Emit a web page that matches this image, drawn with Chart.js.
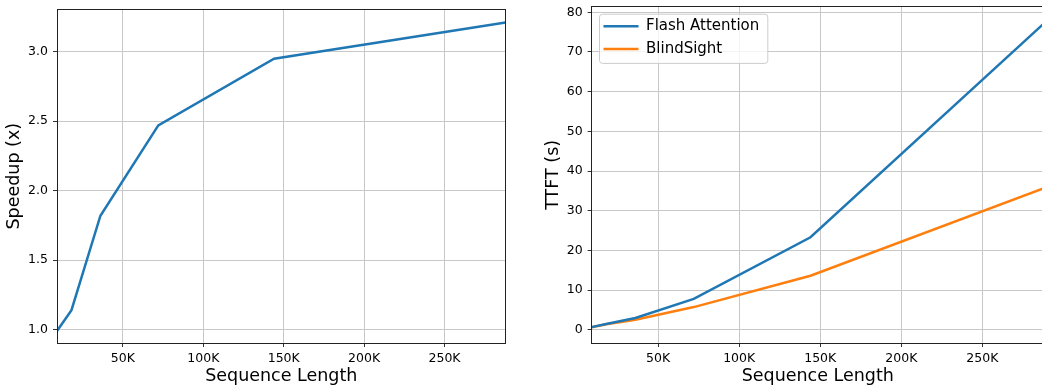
<!DOCTYPE html>
<html>
<head>
<meta charset="utf-8">
<script src="https://cdn.jsdelivr.net/npm/chart.js@4"></script>
<style>
html, body { margin: 0; padding: 0; background: #fff; overflow: hidden; }
#speedupChart { position: absolute; left: 0; top: 0; }
#ttftChart { position: absolute; left: 520px; top: 0; }
</style>
</head>
<body>
<canvas id="speedupChart" width="520" height="388"></canvas>
<canvas id="ttftChart" width="524" height="388"></canvas>
<script>
const seqLen = [9000, 18000, 36000, 72000, 144000, 288000];
const speedup = [0.99, 1.14, 1.82, 2.47, 2.95, 3.21];
const flashTTFT = [0.65, 1.45, 2.95, 7.75, 23.3, 77.2];
const blindTTFT = [0.6, 1.35, 2.5, 5.7, 13.6, 35.7];
const seriesNames = ['Flash Attention', 'BlindSight'];
const xTicks = [50000, 100000, 150000, 200000, 250000];
const speedupTicks = [1.0, 1.5, 2.0, 2.5, 3.0];
const ttftTicks = [0, 10, 20, 30, 40, 50, 60, 70, 80];

Chart.defaults.font.family = "'DejaVu Sans', sans-serif";
Chart.defaults.font.size = 12.5;
Chart.defaults.color = '#000';

const toPoints = ys => seqLen.map((x, i) => ({ x: x, y: ys[i] }));

function xAxis() {
    return {
        type: 'linear',
        min: seqLen[0],
        max: seqLen[seqLen.length - 1],
        afterBuildTicks: s => { s.ticks = xTicks.map(v => ({ value: v })); },
        afterFit: s => { s.height = 45; s.paddingLeft = 0; s.paddingRight = 0; },
        ticks: { callback: v => (v / 1000) + 'K', padding: 3.8, maxRotation: 0, autoSkip: false },
        grid: { color: '#c8c8c8', lineWidth: 1, tickColor: '#333', tickLength: 4, tickWidth: 1 },
        border: { display: false },
        title: { display: true, text: 'Sequence Length', font: { size: 17.5 }, padding: { top: 0, bottom: 1.3 } }
    };
}

function yAxis(min, max, tickList, fmt, width, label, titlePad) {
    return {
        min: min,
        max: max,
        afterBuildTicks: s => { s.ticks = tickList.map(v => ({ value: v })); },
        afterFit: s => { s.width = width; s.paddingTop = 0; s.paddingBottom = 0; },
        ticks: { callback: fmt, padding: 5, autoSkip: false },
        grid: { color: '#c8c8c8', lineWidth: 1, tickColor: '#333', tickLength: 4, tickWidth: 1 },
        border: { display: false },
        title: { display: true, text: label, font: { size: 17.5 }, padding: { top: titlePad, bottom: 0 } }
    };
}

// black box round the plot area, like the matplotlib spines
const axesFrame = {
    id: 'axesFrame',
    afterDraw(chart) {
        const a = chart.chartArea;
        const ctx = chart.ctx;
        const l = Math.floor(a.left) + 0.5, t = Math.floor(a.top) + 0.5;
        const r = Math.floor(a.right) + 0.5, b = Math.floor(a.bottom) + 0.5;
        ctx.save();
        ctx.strokeStyle = '#222';
        ctx.lineWidth = 1;
        ctx.strokeRect(l, t, r - l, b - t);
        ctx.restore();
    }
};

// puts the legend in the upper left of the plot and gives it a frame
const legendFrame = {
    id: 'legendFrame',
    afterLayout(chart) {
        const lg = chart.legend;
        if (!lg || !lg.options.display) return;
        const a = chart.chartArea;
        lg.left = a.left + 4.2;
        lg.top = a.top + 4.3;
        lg.right = a.right;
        lg.bottom = a.bottom;
        if (!lg._framed) {
            const draw = lg.draw.bind(lg);
            lg.draw = function () {
                const ctx = lg.ctx;
                const pad = lg.options.labels.padding;
                const col = lg.columnSizes[0];
                ctx.save();
                ctx.beginPath();
                ctx.roundRect(lg.left + pad - 4, lg.top + pad - 4.5, col.width + 12.5, col.height - pad + 11.5, 3);
                ctx.fillStyle = 'rgba(255,255,255,0.8)';
                ctx.fill();
                ctx.strokeStyle = '#cccccc';
                ctx.lineWidth = 1;
                ctx.stroke();
                ctx.restore();
                draw();
            };
            lg._framed = true;
        }
    }
};

new Chart(document.getElementById('speedupChart'), {
    type: 'line',
    data: {
        datasets: [{
            label: 'Speedup',
            data: toPoints(speedup),
            borderColor: '#1f77b4',
            backgroundColor: '#1f77b4',
            borderWidth: 2.5,
            pointRadius: 0,
            tension: 0
        }]
    },
    options: {
        responsive: false,
        animation: false,
        events: [],
        layout: { padding: { left: 0, top: 9.4, right: 14.4, bottom: 0 } },
        plugins: { legend: { display: false }, tooltip: { enabled: false } },
        scales: {
            x: xAxis(),
            y: yAxis(0.904, 3.305, speedupTicks, v => v.toFixed(1), 57, 'Speedup (x)', 4.1)
        }
    },
    plugins: [axesFrame]
});

new Chart(document.getElementById('ttftChart'), {
    type: 'line',
    data: {
        datasets: [
            { label: seriesNames[0], data: toPoints(flashTTFT), borderColor: '#1f77b4', backgroundColor: '#1f77b4', borderWidth: 2.5, pointRadius: 0, tension: 0 },
            { label: seriesNames[1], data: toPoints(blindTTFT), borderColor: '#ff7f0e', backgroundColor: '#ff7f0e', borderWidth: 2.5, pointRadius: 0, tension: 0 }
        ]
    },
    options: {
        responsive: false,
        animation: false,
        events: [],
        layout: { padding: { left: 0, top: 6.7, right: 0, bottom: 0 } },
        plugins: {
            tooltip: { enabled: false },
            legend: {
                position: 'chartArea',
                align: 'start',
                labels: {
                    font: { size: 15 },
                    boxWidth: 35,
                    boxHeight: 2.5,
                    padding: 7.7,
                    generateLabels: chart => Chart.defaults.plugins.legend.labels.generateLabels(chart)
                        .map(item => Object.assign(item, { lineWidth: 0, fillStyle: item.strokeStyle }))
                }
            }
        },
        scales: {
            x: xAxis(),
            y: yAxis(-3.35, 81.41, ttftTicks, v => String(v), 71.6, 'TTFT (s)', 22.7)
        }
    },
    plugins: [legendFrame, axesFrame]
});
</script>
</body>
</html>
